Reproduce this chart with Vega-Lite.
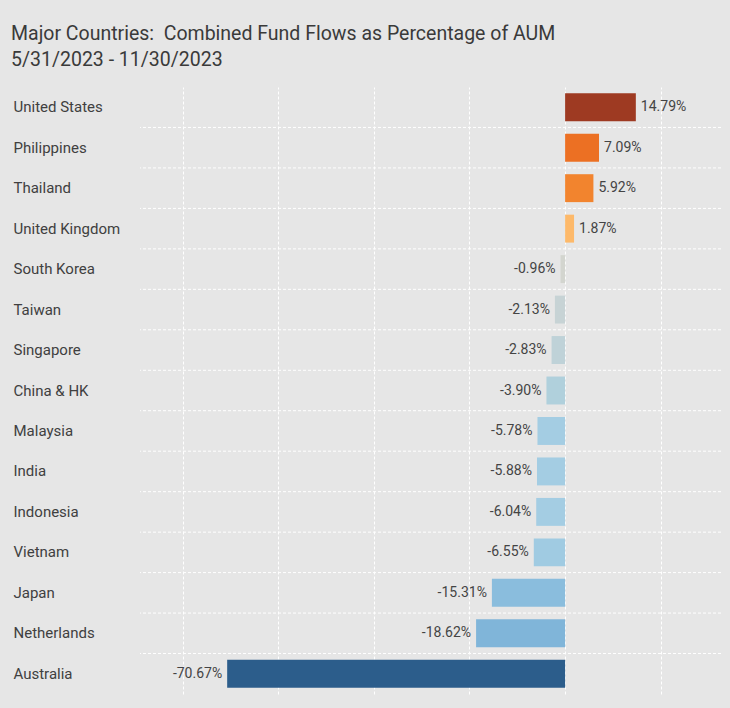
{
  "$schema": "https://vega.github.io/schema/vega-lite/v6.json",
  "autosize": {"type": "none"},
  "width": 581,
  "height": 607,
  "padding": {"left": 140, "top": 87, "right": 9, "bottom": 14},
  "background": "#e6e6e6",
  "config": {
    "view": {"stroke": null},
    "font": "Roboto",
    "locale": {"number": {"decimal": ".", "thousands": ",", "grouping": [3], "currency": ["$", ""], "minus": "-"}}
  },
  "title": {
    "text": ["Major Countries:\u00a0 Combined Fund Flows as Percentage of AUM", "5/31/2023 - 11/30/2023"],
    "anchor": "start",
    "frame": "group",
    "dx": -129,
    "fontSize": 19.5,
    "fontWeight": "normal",
    "color": "#3a3a3a",
    "lineHeight": 26,
    "offset": 17
  },
  "data": {
    "values": [
      {"country": "United States", "value": 0.1479},
      {"country": "Philippines", "value": 0.0709},
      {"country": "Thailand", "value": 0.0592},
      {"country": "United Kingdom", "value": 0.0187},
      {"country": "South Korea", "value": -0.0096},
      {"country": "Taiwan", "value": -0.0213},
      {"country": "Singapore", "value": -0.0283},
      {"country": "China & HK", "value": -0.0390},
      {"country": "Malaysia", "value": -0.0578},
      {"country": "India", "value": -0.0588},
      {"country": "Indonesia", "value": -0.0604},
      {"country": "Vietnam", "value": -0.0655},
      {"country": "Japan", "value": -0.1531},
      {"country": "Netherlands", "value": -0.1862},
      {"country": "Australia", "value": -0.7067}
    ]
  },
  "encoding": {
    "y": {
      "field": "country", "type": "nominal", "sort": null,
      "scale": {"paddingInner": 0, "paddingOuter": 0},
      "axis": {"title": null, "ticks": false, "domain": false, "grid": false, "labelAlign": "left", "labelPadding": 127, "labelFontSize": 15, "labelColor": "#404040", "labelFont": "Roboto"}
    }
  },
  "layer": [
    {
      "transform": [{"filter": "datum.country != 'Australia'"}],
      "mark": {"type": "rule", "color": "#ffffff", "strokeDash": [3, 2], "strokeWidth": 1},
      "encoding": {
        "y": {
          "field": "country", "type": "nominal", "sort": null, "bandPosition": 1,
          "scale": {"paddingInner": 0, "paddingOuter": 0},
          "axis": {"title": null, "ticks": false, "domain": false, "grid": false, "labelAlign": "left", "labelPadding": 127, "labelFontSize": 15, "labelColor": "#404040", "labelFont": "Roboto"}
        }
      }
    },
    {
      "mark": {"type": "bar", "height": {"band": 0.69}},
      "encoding": {
        "x": {
          "field": "value", "type": "quantitative",
          "scale": {"domain": [-0.889, 0.326], "nice": false},
          "axis": {"title": null, "labels": false, "ticks": false, "domain": false, "grid": true, "values": [-0.8, -0.6, -0.4, -0.2, 0, 0.2], "gridColor": "#ffffff", "gridDash": [3, 2], "gridWidth": 1, "gridOpacity": 1}
        },
        "color": {
          "field": "country", "type": "nominal", "legend": null,
          "scale": {
            "domain": ["United States", "Philippines", "Thailand", "United Kingdom", "South Korea", "Taiwan", "Singapore", "China & HK", "Malaysia", "India", "Indonesia", "Vietnam", "Japan", "Netherlands", "Australia"],
            "range": ["#9e3a22", "#ec7023", "#f2842e", "#fdb96a", "#d3d5cf", "#c7d3d5", "#bfd2d8", "#b0d0dc", "#a4cde3", "#a4cde3", "#a4cde3", "#a0cbe2", "#8abddd", "#80b5d9", "#2c5d8b"]
          }
        }
      }
    },
    {
      "transform": [{"filter": "datum.value >= 0"}],
      "mark": {"type": "text", "align": "left", "dx": 5, "fontSize": 14, "color": "#444444", "baseline": "middle"},
      "encoding": {
        "x": {"field": "value", "type": "quantitative"},
        "text": {"field": "value", "type": "quantitative", "format": ".2%"}
      }
    },
    {
      "transform": [{"filter": "datum.value < 0"}],
      "mark": {"type": "text", "align": "right", "dx": -5, "fontSize": 14, "color": "#444444", "baseline": "middle"},
      "encoding": {
        "x": {"field": "value", "type": "quantitative"},
        "text": {"field": "value", "type": "quantitative", "format": ".2%"}
      }
    }
  ]
}
